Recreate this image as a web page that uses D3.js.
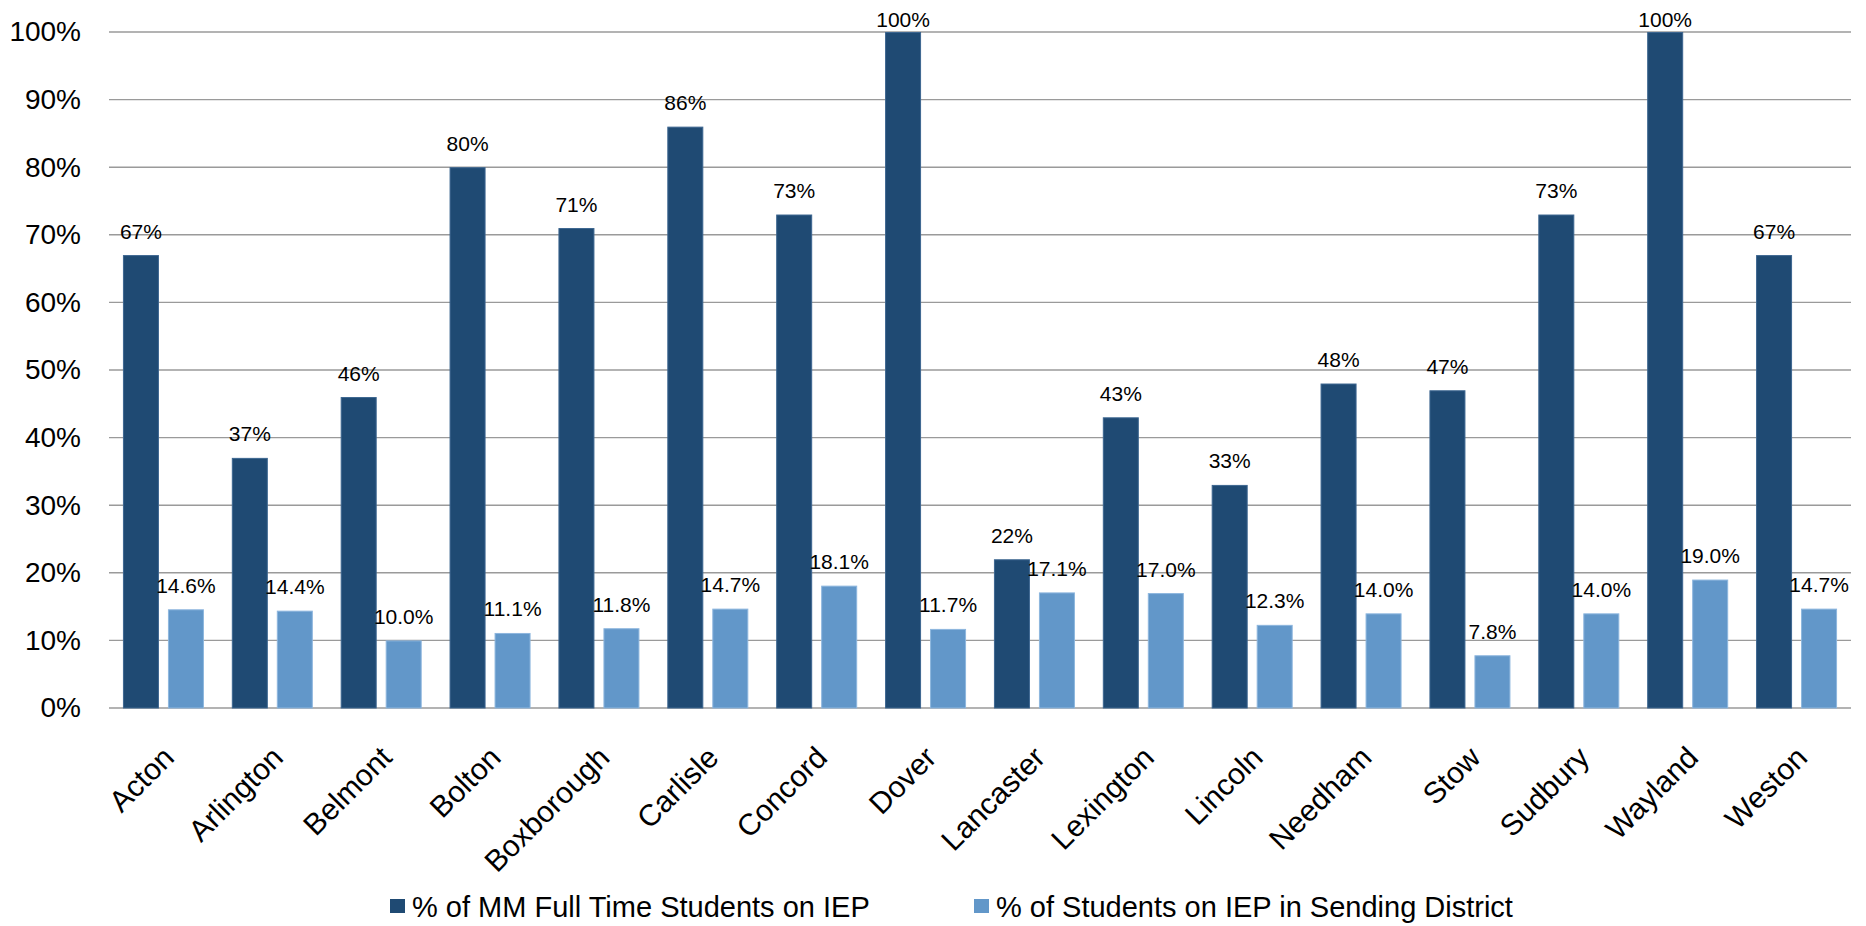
<!DOCTYPE html>
<html>
<head>
<meta charset="utf-8">
<script src="https://cdn.jsdelivr.net/npm/d3@7"></script>
<style>
  html, body { margin: 0; padding: 0; background: #ffffff; }
  svg { display: block; font-family: "Liberation Sans", Arial, sans-serif; }
</style>
</head>
<body>
<svg id="chart" width="1866" height="926"></svg>
<script>
// District names along the x axis
const districts = ["Acton", "Arlington", "Belmont", "Bolton", "Boxborough", "Carlisle",
  "Concord", "Dover", "Lancaster", "Lexington", "Lincoln", "Needham", "Stow",
  "Sudbury", "Wayland", "Weston"];

// % of MM full time students on IEP
const mmFullTime = [67, 37, 46, 80, 71, 86, 73, 100, 22, 43, 33, 48, 47, 73, 100, 67];

// % of students on IEP in the sending district
const sendingDistrict = [14.6, 14.4, 10.0, 11.1, 11.8, 14.7, 18.1, 11.7, 17.1, 17.0,
  12.3, 14.0, 7.8, 14.0, 19.0, 14.7];

// Series names shown in the legend
const seriesNames = ["% of MM Full Time Students on IEP", "% of Students on IEP in Sending District"];

// Y axis tick values
const yTicks = [0, 10, 20, 30, 40, 50, 60, 70, 80, 90, 100];

const colors = { dark: "#1f4a73", light: "#6297c9" };
const strokes = { dark: "#3d6690", light: "#8db6de" };

const svg = d3.select("#chart");

const plot = { left: 109, right: 1851, top: 32, bottom: 708 };

const x = d3.scaleBand()
  .domain(districts)
  .range([plot.left, plot.right])
  .paddingInner(0)
  .paddingOuter(0);

const bw = x.bandwidth();
const innerPad = (bw - 81) / 2;
const xs = d3.scaleBand()
  .domain(["mm", "sd"])
  .range([innerPad, bw - innerPad])
  .paddingInner(0.2)
  .paddingOuter(0);

const y = d3.scaleLinear().domain([0, 100]).range([plot.bottom, plot.top]);

// Gridlines
svg.append("g")
  .selectAll("line")
  .data(yTicks)
  .join("line")
  .attr("x1", plot.left)
  .attr("x2", plot.right)
  .attr("y1", d => y(d))
  .attr("y2", d => y(d))
  .attr("stroke", "#9a9a9a")
  .attr("stroke-width", 1.4);

// Y axis labels
const yAxis = d3.axisLeft(y)
  .tickValues(yTicks)
  .tickFormat(d => d + "%")
  .tickSize(0)
  .tickPadding(28);

const yg = svg.append("g")
  .attr("transform", `translate(${plot.left},0)`)
  .call(yAxis);
yg.select(".domain").remove();
yg.selectAll("text")
  .attr("font-size", 28)
  .attr("fill", "#000")
  .attr("font-family", "Liberation Sans, Arial, sans-serif");

// Rows for the bars
const rows = districts.map((d, i) => ({ district: d, mm: mmFullTime[i], sd: sendingDistrict[i] }));

const groups = svg.append("g")
  .selectAll("g")
  .data(rows)
  .join("g")
  .attr("transform", d => `translate(${x(d.district)},0)`);

// Dark bars
groups.append("rect")
  .attr("x", xs("mm") + 0.5)
  .attr("width", xs.bandwidth() - 1)
  .attr("y", d => y(d.mm) + 0.5)
  .attr("height", d => y(0) - y(d.mm) - 0.5)
  .attr("fill", colors.dark)
  .attr("stroke", strokes.dark)
  .attr("stroke-width", 1);

// Light bars
groups.append("rect")
  .attr("x", xs("sd") + 0.5)
  .attr("width", xs.bandwidth() - 1)
  .attr("y", d => y(d.sd) + 0.5)
  .attr("height", d => y(0) - y(d.sd) - 0.5)
  .attr("fill", colors.light)
  .attr("stroke", strokes.light)
  .attr("stroke-width", 1);

// Value labels, kept inside the plot area at the top
groups.append("text")
  .attr("x", xs("mm") + xs.bandwidth() / 2)
  .attr("y", d => Math.max(y(d.mm) - 16.5, 27))
  .attr("text-anchor", "middle")
  .attr("font-size", 21)
  .attr("fill", "#000")
  .text(d => d.mm + "%");

groups.append("text")
  .attr("x", xs("sd") + xs.bandwidth() / 2)
  .attr("y", d => Math.max(y(d.sd) - 16.5, 27))
  .attr("text-anchor", "middle")
  .attr("font-size", 21)
  .attr("fill", "#000")
  .text(d => d.sd.toFixed(1) + "%");

// X axis labels, rotated
const xAxis = d3.axisBottom(x).tickSize(0).tickPadding(0);
const xg = svg.append("g")
  .attr("transform", `translate(0,${plot.bottom})`)
  .call(xAxis);
xg.select(".domain").remove();
xg.selectAll(".tick text")
  .attr("font-size", 30)
  .attr("fill", "#000")
  .attr("font-family", "Liberation Sans, Arial, sans-serif")
  .attr("text-anchor", "end")
  .attr("x", 0)
  .attr("y", 0)
  .attr("dy", "0.35em")
  .attr("transform", "translate(5,44) rotate(-45)");

// Legend
const legendItems = [
  { name: seriesNames[0], color: colors.dark, x: 390 },
  { name: seriesNames[1], color: colors.light, x: 974 }
];
const lg = svg.append("g")
  .selectAll("g")
  .data(legendItems)
  .join("g")
  .attr("transform", d => `translate(${d.x},0)`);
lg.append("rect")
  .attr("x", 0)
  .attr("y", 899)
  .attr("width", 15)
  .attr("height", 14)
  .attr("fill", d => d.color);
lg.append("text")
  .attr("x", 22)
  .attr("y", 917)
  .attr("font-size", 29)
  .attr("fill", "#000")
  .text(d => d.name);
</script>
</body>
</html>
